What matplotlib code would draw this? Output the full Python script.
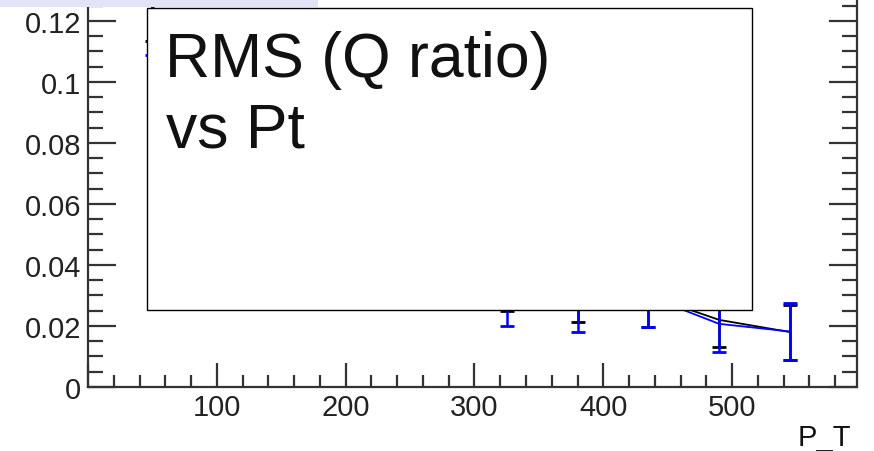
import matplotlib
matplotlib.use("Agg")
import matplotlib.pyplot as plt
from matplotlib.patches import Rectangle
from matplotlib.ticker import MultipleLocator

plt.rcParams['font.family'] = ['Liberation Sans', 'DejaVu Sans']

# P_T bin centres
pt = [50, 105, 160, 215, 270, 325, 380, 435, 490, 545]

# RMS of Q ratio, two series (black drawn below, blue on top)
rms_black = [0.125, 0.085, 0.068, 0.056, 0.046, 0.034, 0.030, 0.030, 0.022, 0.018]
err_black = [0.0116, 0.006, 0.007, 0.008, 0.009, 0.0091, 0.0087, 0.0103, 0.0089, 0.0090]
rms_blue = [0.121, 0.080, 0.065, 0.055, 0.045, 0.0293, 0.0273, 0.0297, 0.0207, 0.0182]
err_blue = [0.0122, 0.006, 0.007, 0.008, 0.009, 0.0093, 0.0093, 0.0100, 0.0092, 0.0093]

title_lines = ["RMS (Q ratio)", "vs Pt"]
x_label = "P_T"

fig = plt.figure(figsize=(8.74, 4.52), dpi=100)
# the plot is cut at the top edge of the picture
ax = fig.add_axes([0.1007, 0.1416, 0.8799, 0.8584])

for y, e, c in [(rms_black, err_black, 'black'), (rms_blue, err_blue, '#0000ff')]:
    ax.plot(pt, y, color=c, lw=1.3)
    ax.errorbar(pt, y, yerr=e, fmt='none', ecolor=c, elinewidth=1.8,
                capsize=5, capthick=2)

ax.set_xlim(0, 597)
ax.set_ylim(0, 0.1272)
ax.spines['top'].set_visible(False)
ax.xaxis.set_major_locator(MultipleLocator(100))
ax.xaxis.set_minor_locator(MultipleLocator(20))
ax.yaxis.set_major_locator(MultipleLocator(0.02))
ax.yaxis.set_minor_locator(MultipleLocator(0.005))
ax.yaxis.set_major_formatter(plt.FuncFormatter(lambda v, p: '0' if v == 0 else ('%.2f' % v).rstrip('0')))
ax.xaxis.set_major_formatter(plt.FuncFormatter(lambda v, p: '' if v == 0 else '%d' % v))

ax.tick_params(which='both', direction='in', colors='#333333', labelcolor='#222222',
               labelsize=21, width=1.6, right=True, top=False)
ax.tick_params(axis='y', which='major', length=20, pad=5)
ax.tick_params(axis='y', which='minor', length=11)
ax.tick_params(axis='x', which='major', length=17, pad=4)
ax.tick_params(axis='x', which='minor', length=9)
for s in ax.spines.values():
    s.set_linewidth(1.6)
    s.set_color('#333333')

fig.text(851 / 874, 1 - 446 / 452, x_label, ha='right', va='baseline',
         fontsize=21, color='#111111')

# lavender strip at the top left
fig.patches.append(Rectangle((0, 1 - 8 / 452), 318 / 874, 8 / 452,
                             transform=fig.transFigure, facecolor='#e3e3f8',
                             edgecolor='none', zorder=5))
# white title box over the plot
fig.patches.append(Rectangle((147 / 874, 1 - 311 / 452), 605 / 874, 302 / 452,
                             transform=fig.transFigure, facecolor='white',
                             edgecolor='black', lw=1.0, zorder=5))
fig.text(165 / 874, 1 - 77 / 452, title_lines[0], fontsize=45, va='baseline',
         ha='left', color='#111111', zorder=6)
fig.text(166 / 874, 1 - 147 / 452, title_lines[1], fontsize=45, va='baseline',
         ha='left', color='#111111', zorder=6)

fig.savefig("out.png", dpi=100)
